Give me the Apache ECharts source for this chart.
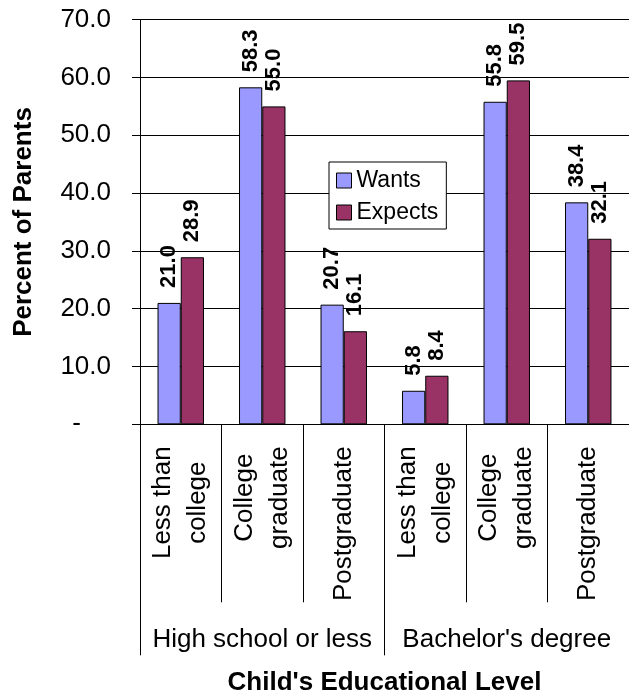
<!DOCTYPE html>
<html>
<head>
<meta charset="utf-8">
<script src="https://cdn.jsdelivr.net/npm/echarts@6/dist/echarts.min.js"></script>
<style>
  html, body { margin: 0; padding: 0; background: #fff; }
  #chart { width: 629px; height: 696px; }
</style>
</head>
<body>
<div id="chart"></div>
<script>
// Child's educational level: inner categories and the two outer groups
const levels = ['Less than\ncollege', 'College\ngraduate', 'Postgraduate',
                'Less than\ncollege', 'College\ngraduate', 'Postgraduate'];
const groups = ['High school or less', "Bachelor's degree"];

// Percent of parents
const wants   = [21.0, 58.3, 20.7, 5.8, 55.8, 38.4];
const expects = [28.9, 55.0, 16.1, 8.4, 59.5, 32.1];

const seriesNames = ['Wants', 'Expects'];
const FONT = '"Liberation Sans", Arial, sans-serif';

const chart = echarts.init(document.getElementById('chart'), null, { renderer: 'canvas' });

const dataLabel = {
  show: true,
  position: 'top',
  rotate: 90,
  align: 'left',
  verticalAlign: 'middle',
  distance: 15,
  fontFamily: FONT,
  fontSize: 22,
  fontWeight: 'bold',
  color: '#000',
  formatter: p => p.value.toFixed(1)
};

chart.setOption({
  animation: false,
  backgroundColor: '#fff',
  textStyle: { fontFamily: FONT, color: '#000' },
  grid: {
    left: 140, right: 0, top: 19.7, bottom: 271.7,
    containLabel: false,
    outerBoundsMode: 'none'
  },
  legend: {
    data: seriesNames,
    orient: 'vertical',
    left: 329,
    top: 162,
    padding: [7, 8, 5, 7],
    itemGap: 9,
    itemWidth: 15,
    itemHeight: 15,
    icon: 'rect',
    borderColor: '#000',
    borderWidth: 1,
    backgroundColor: '#fff',
    itemStyle: { borderColor: '#000', borderWidth: 1 },
    textStyle: { fontFamily: FONT, fontSize: 23, color: '#000' }
  },
  xAxis: [
    {
      type: 'category',
      data: levels,
      axisLine: { show: true, lineStyle: { color: '#000', width: 1 } },
      axisTick: { show: true, interval: 0, length: 178, lineStyle: { color: '#000', width: 1 } },
      axisLabel: {
        interval: 0,
        rotate: 90,
        margin: 22,
        fontFamily: FONT,
        fontSize: 26,
        color: '#000',
        lineHeight: 35,
        formatter: v => v.split('\n').map(s => '{c|' + s + '}').join('\n'),
        rich: { c: { align: 'center', fontFamily: FONT, fontSize: 26, lineHeight: 35, color: '#000' } }
      },
      splitLine: { show: false }
    },
    {
      type: 'category',
      data: groups,
      position: 'bottom',
      axisLine: { show: false },
      axisTick: { show: true, interval: 0, length: 231, lineStyle: { color: '#000', width: 1 } },
      axisLabel: { interval: 0, margin: 203, fontFamily: FONT, fontSize: 26, color: '#000' },
      name: "Child's Educational Level",
      nameLocation: 'middle',
      nameGap: 246,
      nameTextStyle: { fontFamily: FONT, fontSize: 26, fontWeight: 'bold', color: '#000' },
      splitLine: { show: false }
    }
  ],
  yAxis: {
    type: 'value',
    min: 0,
    max: 70,
    interval: 10,
    name: 'Percent of Parents',
    nameLocation: 'middle',
    nameRotate: 90,
    nameGap: 103,
    nameTextStyle: { fontFamily: FONT, fontSize: 26, fontWeight: 'bold', color: '#000' },
    axisLine: { show: true, lineStyle: { color: '#000', width: 1 } },
    axisTick: { show: true, length: 8, lineStyle: { color: '#000', width: 1 } },
    axisLabel: {
      margin: 29,
      fontFamily: FONT,
      fontSize: 26,
      color: '#000',
      formatter: v => v === 0 ? '{d|-}' : v.toFixed(1),
      rich: { d: { fontFamily: FONT, fontSize: 26, color: '#000', padding: [0, 30, 0, 0] } }
    },
    splitLine: { show: true, lineStyle: { color: '#000', width: 1 } }
  },
  series: [
    {
      name: seriesNames[0],
      type: 'bar',
      xAxisIndex: 0,
      data: wants,
      barGap: '0%',
      barCategoryGap: '43%',
      itemStyle: { color: '#9999FF', borderColor: '#000', borderWidth: 1 },
      label: dataLabel
    },
    {
      name: seriesNames[1],
      type: 'bar',
      xAxisIndex: 0,
      data: expects,
      barGap: '0%',
      barCategoryGap: '43%',
      itemStyle: { color: '#993366', borderColor: '#000', borderWidth: 1 },
      label: dataLabel
    }
  ]
});
</script>
</body>
</html>
